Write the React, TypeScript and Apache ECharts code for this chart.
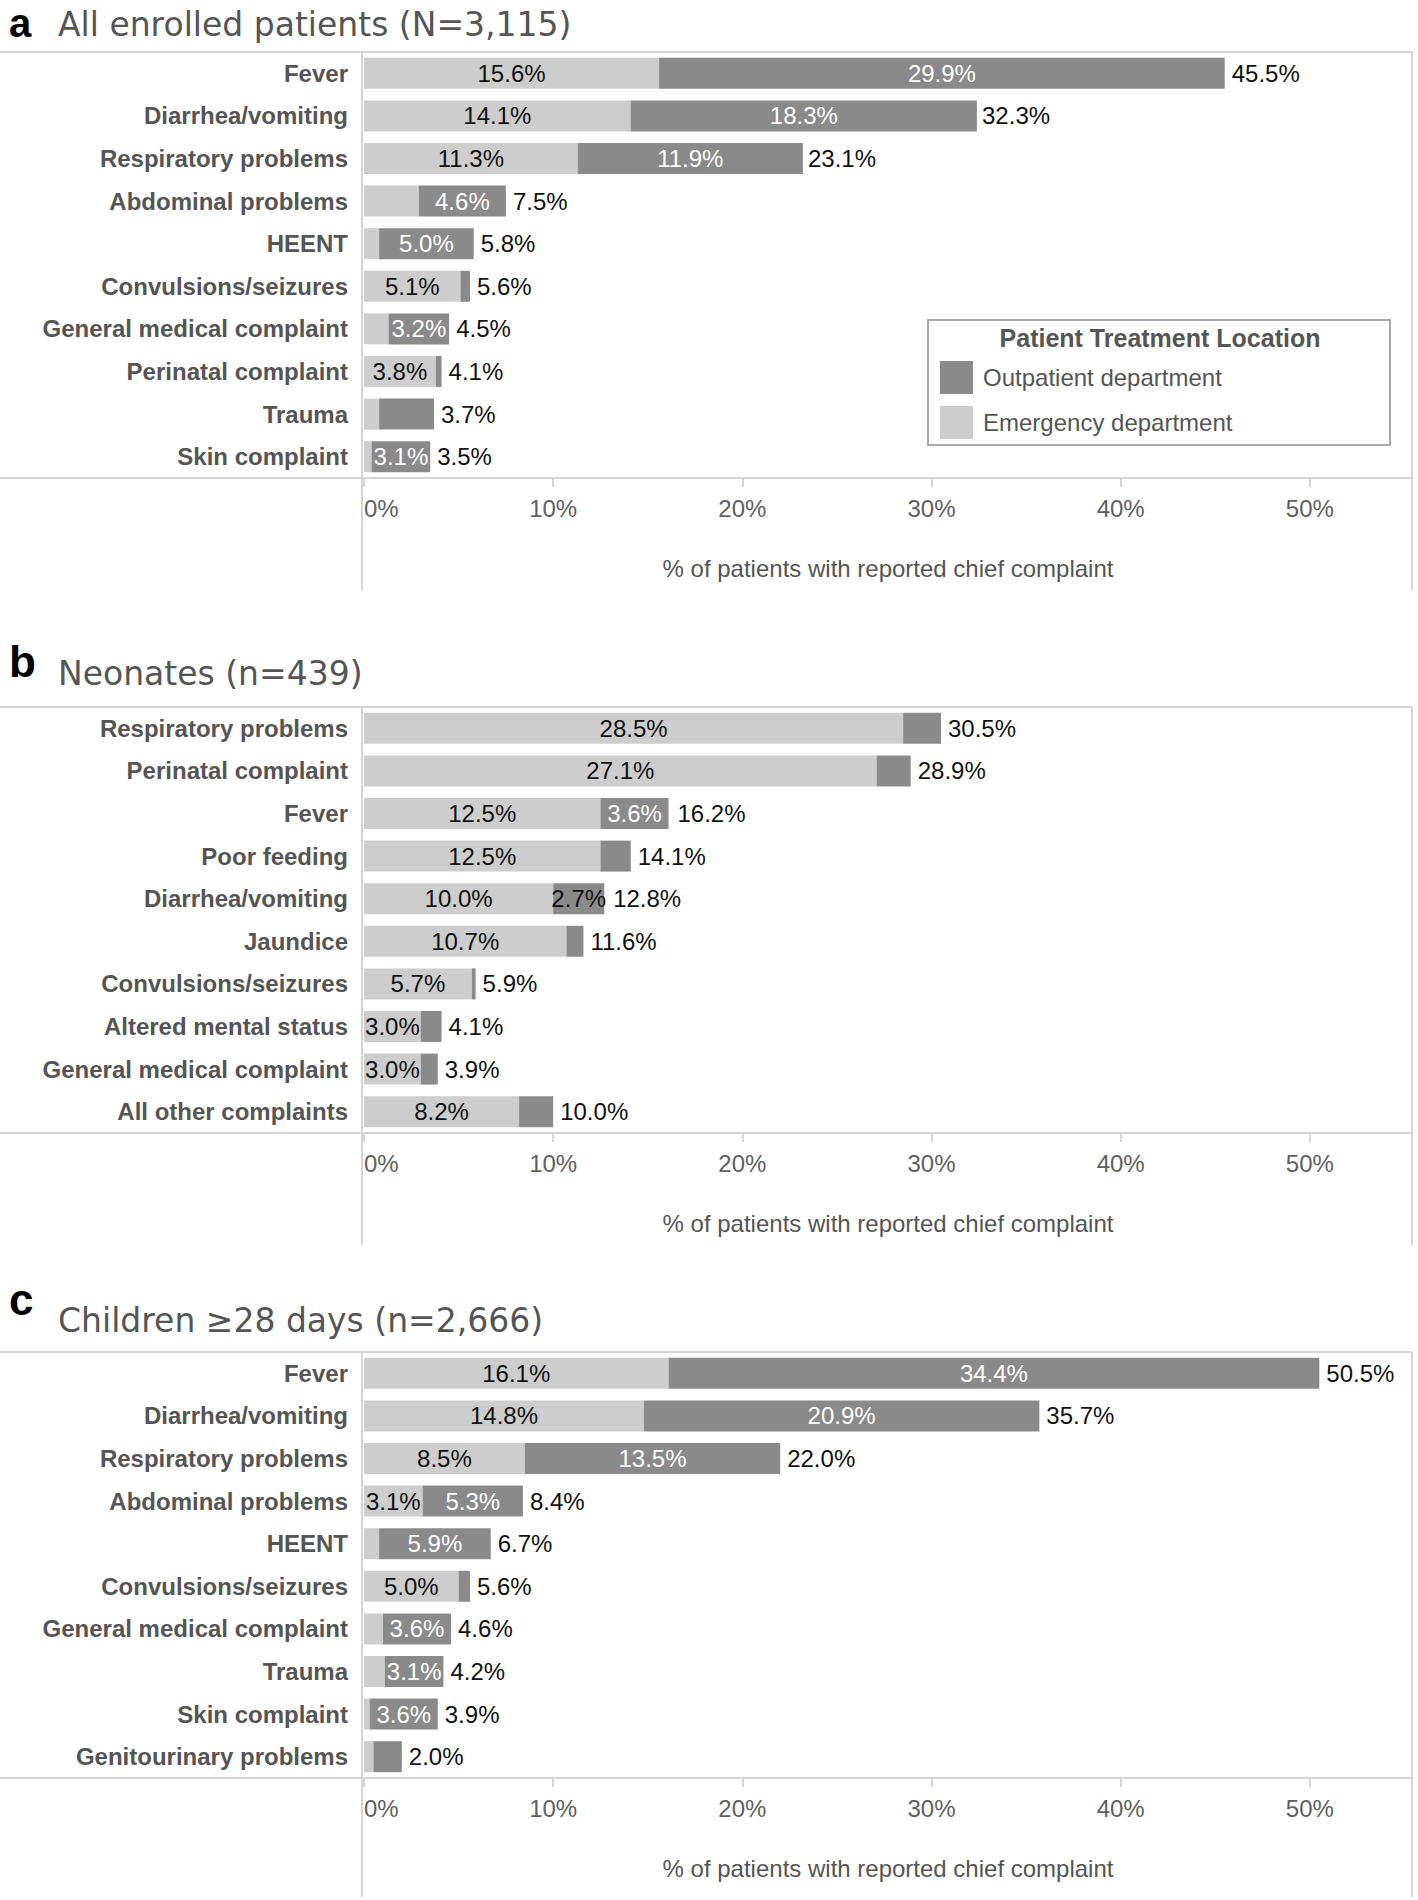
import React, { useEffect, useRef } from "react";
import * as echarts from "echarts";

// ---------- Panel a: All enrolled patients ----------
const catsA = ["Fever", "Diarrhea/vomiting", "Respiratory problems", "Abdominal problems", "HEENT", "Convulsions/seizures", "General medical complaint", "Perinatal complaint", "Trauma", "Skin complaint"];
const edA = [15.6, 14.1, 11.3, 2.9, 0.8, 5.1, 1.3, 3.8, 0.8, 0.4];
const opdA = [29.9, 18.3, 11.9, 4.6, 5.0, 0.5, 3.2, 0.3, 2.9, 3.1];
const totalA = [45.5, 32.3, 23.1, 7.5, 5.8, 5.6, 4.5, 4.1, 3.7, 3.5];
const edLabA = ["k", "k", "k", "", "", "k", "", "k", "", ""];
const opdLabA = ["w", "w", "w", "w", "w", "", "w", "", "", "w"];

// ---------- Panel b: Neonates ----------
const catsB = ["Respiratory problems", "Perinatal complaint", "Fever", "Poor feeding", "Diarrhea/vomiting", "Jaundice", "Convulsions/seizures", "Altered mental status", "General medical complaint", "All other complaints"];
const edB = [28.5, 27.1, 12.5, 12.5, 10.0, 10.7, 5.7, 3.0, 3.0, 8.2];
const opdB = [2.0, 1.8, 3.6, 1.6, 2.7, 0.9, 0.2, 1.1, 0.9, 1.8];
const totalB = [30.5, 28.9, 16.2, 14.1, 12.8, 11.6, 5.9, 4.1, 3.9, 10.0];
const edLabB = ["k", "k", "k", "k", "k", "k", "k", "k", "k", "k"];
const opdLabB = ["", "", "w", "", "k", "", "", "", "", ""];

// ---------- Panel c: Children >=28 days ----------
const catsC = ["Fever", "Diarrhea/vomiting", "Respiratory problems", "Abdominal problems", "HEENT", "Convulsions/seizures", "General medical complaint", "Trauma", "Skin complaint", "Genitourinary problems"];
const edC = [16.1, 14.8, 8.5, 3.1, 0.8, 5.0, 1.0, 1.1, 0.3, 0.5];
const opdC = [34.4, 20.9, 13.5, 5.3, 5.9, 0.6, 3.6, 3.1, 3.6, 1.5];
const totalC = [50.5, 35.7, 22.0, 8.4, 6.7, 5.6, 4.6, 4.2, 3.9, 2.0];
const edLabC = ["k", "k", "k", "k", "", "k", "", "", "", ""];
const opdLabC = ["w", "w", "w", "w", "w", "", "w", "w", "w", ""];

const letters = ["a", "b", "c"];
const titles = ["All enrolled patients (N=3,115)", "Neonates (n=439)", "Children \u226528 days (n=2,666)"];
const xTicks = [0, 10, 20, 30, 40, 50];
const legendNames = ["Outpatient department", "Emergency department"];
const legendTitle = "Patient Treatment Location";
const axisTitle = "% of patients with reported chief complaint";

const panels = [
  { cats: catsA, ed: edA, opd: opdA, total: totalA, edLab: edLabA, opdLab: opdLabA },
  { cats: catsB, ed: edB, opd: opdB, total: totalB, edLab: edLabB, opdLab: opdLabB },
  { cats: catsC, ed: edC, opd: opdC, total: totalC, edLab: edLabC, opdLab: opdLabC },
];

// ---------- layout ----------
const FONT = '"Liberation Sans", Arial, Helvetica, sans-serif';
const TITLE_FONT = '"DejaVu Sans", Verdana, sans-serif';
const PANEL_TOP = [52, 707, 1352];
const PANEL_EXT = [112, 112, 119];
const LETTER_BASE = [37, 677, 1315];
const LETTER_SIZE = [40, 44, 44];
const TITLE_BASE = [36, 685, 1332];
const GRID_LEFT = 364;
const GRID_RIGHT_X = 1412;
const GRID_H = 426;
const X_MAX = 55.4;
const LIGHT = "#cdcdcd";
const DARK = "#8a8a8a";
const RULE = "#d5d5d5";

function fmt(v: number) {
  return v.toFixed(1) + "%";
}

function buildOption() {
  const grid: any[] = [];
  const xAxis: any[] = [];
  const yAxis: any[] = [];
  const series: any[] = [];
  const graphic: any[] = [];

  panels.forEach((p, i) => {
    const top = PANEL_TOP[i];
    const bottom = top + GRID_H;
    const ext = bottom + PANEL_EXT[i];
    grid.push({
      left: GRID_LEFT,
      top,
      width: GRID_RIGHT_X - GRID_LEFT,
      height: GRID_H,
      containLabel: false,
      outerBoundsMode: "none",
    });
    xAxis.push({
      gridIndex: i,
      type: "value",
      min: xTicks[0],
      max: X_MAX,
      interval: xTicks[1] - xTicks[0],
      axisLine: { show: false },
      splitLine: { show: false },
      axisTick: { show: true, length: 9, lineStyle: { color: RULE, width: 2 } },
      axisLabel: {
        formatter: "{value}%",
        fontSize: 24,
        fontFamily: FONT,
        color: "#606060",
        margin: 18,
        alignMinLabel: "left",
        showMaxLabel: false,
      },
      name: axisTitle,
      nameLocation: "middle",
      nameGap: 78,
      nameTextStyle: { fontSize: 24, fontFamily: FONT, color: "#555" },
    });
    yAxis.push({
      gridIndex: i,
      type: "category",
      data: p.cats,
      inverse: true,
      axisLine: { show: false },
      axisTick: { show: false },
      splitLine: { show: false },
      axisLabel: {
        interval: 0,
        fontSize: 24,
        fontWeight: "bold",
        fontFamily: FONT,
        color: "#555",
        margin: 16,
      },
    });

    const labColor = (c: string) => (c === "w" ? "#ffffff" : "#111111");

    series.push({
      type: "bar",
      name: legendNames[1],
      xAxisIndex: i,
      yAxisIndex: i,
      stack: "s" + i,
      barWidth: 31,
      barGap: "-100%",
      itemStyle: { color: LIGHT },
      label: {
        show: true,
        position: "inside",
        fontSize: 24,
        fontFamily: FONT,
        formatter: (prm: any) => fmt(prm.value),
      },
      data: p.ed.map((v, j) => ({
        value: v,
        label: { show: p.edLab[j] !== "", color: labColor(p.edLab[j]) },
      })),
    });
    series.push({
      type: "bar",
      name: legendNames[0],
      xAxisIndex: i,
      yAxisIndex: i,
      stack: "s" + i,
      barWidth: 31,
      barGap: "-100%",
      itemStyle: { color: DARK },
      label: {
        show: true,
        position: "inside",
        fontSize: 24,
        fontFamily: FONT,
        formatter: (prm: any) => fmt(prm.value),
      },
      data: p.opd.map((v, j) => ({
        value: v,
        label: { show: p.opdLab[j] !== "", color: labColor(p.opdLab[j]) },
      })),
    });
    series.push({
      type: "bar",
      name: "Total",
      xAxisIndex: i,
      yAxisIndex: i,
      barWidth: 31,
      barGap: "-100%",
      silent: true,
      z: 1,
      itemStyle: { color: "rgba(0,0,0,0)" },
      label: {
        show: true,
        position: "right",
        distance: 7,
        fontSize: 24,
        fontFamily: FONT,
        color: "#111",
        formatter: (prm: any) => fmt(prm.value),
      },
      data: p.total,
    });

    // rules
    const ln = (x1: number, y1: number, x2: number, y2: number) => ({
      type: "line",
      silent: true,
      shape: { x1, y1, x2, y2 },
      style: { stroke: RULE, lineWidth: 2 },
      z: 0,
    });
    graphic.push(ln(0, top, GRID_RIGHT_X, top));
    graphic.push(ln(0, bottom, GRID_RIGHT_X, bottom));
    graphic.push(ln(GRID_LEFT - 2, top, GRID_LEFT - 2, ext));
    graphic.push(ln(GRID_RIGHT_X, top, GRID_RIGHT_X, ext));

    // panel letter and title
    const ls = LETTER_SIZE[i];
    graphic.push({
      type: "text",
      x: 9,
      y: LETTER_BASE[i] - 0.35 * ls,
      silent: true,
      style: {
        text: letters[i],
        fontSize: ls,
        fontWeight: "bold",
        fontFamily: FONT,
        fill: "#000",
        align: "left",
        verticalAlign: "middle",
      },
    });
    graphic.push({
      type: "text",
      x: 58,
      y: TITLE_BASE[i] - 0.35 * 33,
      silent: true,
      style: {
        text: titles[i],
        fontSize: 33,
        fontFamily: TITLE_FONT,
        fill: "#555555",
        align: "left",
        verticalAlign: "middle",
      },
    });
  });

  // legend box + title
  graphic.push({
    type: "rect",
    silent: true,
    z: 0,
    shape: { x: 928, y: 320, width: 462, height: 125 },
    style: { fill: "#ffffff", stroke: "#a8a8a8", lineWidth: 2 },
  });
  graphic.push({
    type: "text",
    silent: true,
    x: 1160,
    y: 338,
    style: {
      text: legendTitle,
      fontSize: 25,
      fontWeight: "bold",
      fontFamily: FONT,
      fill: "#555",
      align: "center",
      verticalAlign: "middle",
    },
  });

  return {
    animation: false,
    backgroundColor: "#ffffff",
    textStyle: { fontFamily: FONT },
    grid,
    xAxis,
    yAxis,
    series,
    graphic,
    legend: {
      data: legendNames,
      orient: "vertical",
      left: 935,
      top: 356,
      itemWidth: 33,
      itemHeight: 33,
      itemGap: 12,
      icon: "rect",
      selectedMode: false,
      textStyle: { fontSize: 24, fontFamily: FONT, color: "#555", padding: [0, 0, 0, 5] },
    },
    tooltip: { show: false },
  };
}

export default function App() {
  const ref = useRef<HTMLDivElement>(null);
  useEffect(() => {
    document.body.style.margin = "0";
    const chart = echarts.init(ref.current as HTMLDivElement, undefined, { renderer: "svg" });
    chart.setOption(buildOption() as any);
    return () => chart.dispose();
  }, []);
  return <div ref={ref} style={{ width: 1418, height: 1900 }} />;
}
